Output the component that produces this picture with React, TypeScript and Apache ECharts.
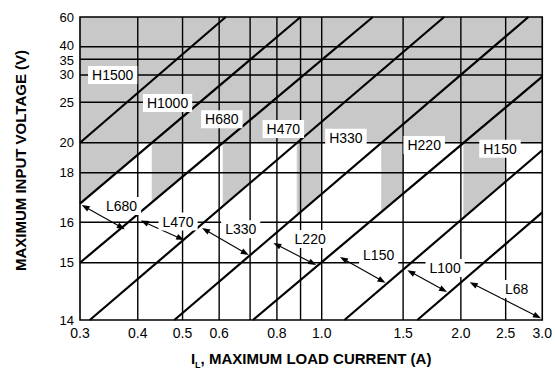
import React, { useEffect, useRef } from "react";
import * as echarts from "echarts";

// ---- axes (load current in A, input voltage in V) ----
const currentTicks = [0.3, 0.4, 0.5, 0.6, 0.8, 1.0, 1.5, 2.0, 2.5, 3.0];
const currentGrid = [0.4, 0.5, 0.6, 0.7, 0.8, 0.9, 1.0, 1.5, 2.0, 2.5];
const voltageTicks = [14, 15, 16, 18, 20, 25, 30, 35, 40, 60];
const voltageGrid = [15, 16, 18, 20, 25, 30, 35, 40];
// the chart's non-linear voltage scale: relative height of each voltage tick
const voltageScale = [0, 0.189, 0.3224, 0.4861, 0.5851, 0.7185, 0.8086, 0.8604, 0.902, 1];

// ---- region boundary lines, [current A, voltage V] at each end ----
const boundaryFrom = [
  [0.3, 20], [0.3, 16.75], [0.3, 15.0], [0.315, 14],
  [0.48, 14], [0.71, 14], [1.12, 14], [1.61, 14],
];
const boundaryTo = [
  [0.62, 60], [0.9, 60], [1.29, 60], [1.84, 60],
  [2.8, 60], [3.0, 29.7], [3.0, 19.5], [3.0, 16.4],
];

// ---- shaded H region: above this voltage, or in each band's current column ----
const hVoltage = 20;
const hCurrentLimit = [0.4, 0.5, 0.7, 1.0, 1.5, 2.5];

// ---- region labels ----
const hNames = ["H1500", "H1000", "H680", "H470", "H330", "H220", "H150"];
const hAt = [
  [0.353, 30], [0.464, 24.9], [0.608, 22.9], [0.826, 21.7],
  [1.128, 20.6], [1.666, 19.85], [2.43, 19.6],
];
const lNames = ["L680", "L470", "L330", "L220", "L150", "L100", "L68"];
const lAt = [
  [0.369, 16.66], [0.489, 16.03], [0.668, 15.83], [0.944, 15.59],
  [1.328, 15.19], [1.849, 14.91], [2.64, 14.54],
];
const lArrowFrom = [
  [0.3025, 16.7], [0.406, 16.07], [0.551, 15.86], [0.786, 15.49],
  [1.095, 15.14], [1.532, 14.87], [2.09, 14.66],
];
const lArrowTo = [
  [0.375, 15.83], [0.504, 15.56], [0.695, 15.19], [0.973, 14.96],
  [1.374, 14.65], [1.867, 14.49], [2.98, 14.03],
];

const FONT = '"Liberation Sans", Arial, Helvetica, sans-serif';
const GRAY = "#c8c8c8";

const U = (i: number) => Math.log10(i);
const T = (v: number) => {
  const n = voltageTicks.length;
  if (v <= voltageTicks[0]) return voltageScale[0];
  if (v >= voltageTicks[n - 1]) return voltageScale[n - 1];
  for (let k = 0; k < n - 1; k++) {
    const a = voltageTicks[k], b = voltageTicks[k + 1];
    if (v >= a && v <= b) {
      return voltageScale[k] + ((v - a) / (b - a)) * (voltageScale[k + 1] - voltageScale[k]);
    }
  }
  return 0;
};

type P = number[];
function clip(poly: P[], f: (p: P) => number): P[] {
  const out: P[] = [];
  for (let i = 0; i < poly.length; i++) {
    const a = poly[i], b = poly[(i + 1) % poly.length];
    const fa = f(a), fb = f(b);
    if (fa >= 0) out.push(a);
    if ((fa >= 0) !== (fb >= 0)) {
      const s = fa / (fa - fb);
      out.push([a[0] + s * (b[0] - a[0]), a[1] + s * (b[1] - a[1])]);
    }
  }
  return out;
}

export default function App() {
  const ref = useRef<HTMLDivElement>(null);
  useEffect(() => {
    const el = ref.current!;
    const chart = echarts.init(el, null, { renderer: "svg" });

    const uMin = U(currentTicks[0]);
    const uMax = U(currentTicks[currentTicks.length - 1]);
    const t20 = T(hVoltage);

    const lines = boundaryFrom.map((f, k) => [
      [U(f[0]), T(f[1])],
      [U(boundaryTo[k][0]), T(boundaryTo[k][1])],
    ]);
    const side = (k: number) => (q: P) => {
      const [p1, p2] = lines[k];
      return (p2[0] - p1[0]) * (q[1] - p1[1]) - (p2[1] - p1[1]) * (q[0] - p1[0]);
    };
    const crossAt = (k: number, t: number) => {
      const [p1, p2] = lines[k];
      return p1[0] + ((t - p1[1]) * (p2[0] - p1[0])) / (p2[1] - p1[1]);
    };
    const rect: P[] = [[uMin, 0], [uMax, 0], [uMax, 1], [uMin, 1]];
    const grayPolys: P[][] = [[[uMin, t20], [uMax, t20], [uMax, 1], [uMin, 1]]];
    hCurrentLimit.forEach((lim, k) => {
      const uStart = Math.max(uMin, crossAt(k, t20));
      let poly = clip(rect, (p) => t20 - p[1]);
      poly = clip(poly, (p) => U(lim) - p[0]);
      poly = clip(poly, (p) => p[0] - uStart);
      const lo = side(k + 1);
      poly = clip(poly, (p) => lo(p));
      if (poly.length >= 3) grayPolys.push(poly);
    });

    const lineEl = (a: number[], b: number[], w: number) => ({
      type: "line",
      shape: { x1: a[0], y1: a[1], x2: b[0], y2: b[1] },
      style: { stroke: "#000", lineWidth: w },
    });

    const labelEl = (api: any, text: string) => {
      const p = api.coord([api.value(0), api.value(1)]);
      return {
        type: "text",
        x: p[0],
        y: p[1],
        style: {
          text,
          fill: "#000",
          fontSize: 14,
          fontFamily: FONT,
          align: "center",
          verticalAlign: "middle",
          backgroundColor: "#fff",
          padding: [2, 4],
        },
      };
    };

    const option: any = {
      animation: false,
      grid: { left: 80, right: 9, top: 17, bottom: 56, show: false },
      xAxis: {
        type: "value",
        min: uMin,
        max: uMax,
        axisLine: { show: false },
        axisTick: { show: false },
        splitLine: { show: false },
        axisLabel: {
          customValues: currentTicks.map(U),
          formatter: (v: number) => Math.pow(10, v).toFixed(1),
          color: "#000",
          fontSize: 14,
          fontFamily: FONT,
          margin: 6,
        },
        name: "{i|I}{s|L}{i|, MAXIMUM LOAD CURRENT (A)}",
        nameLocation: "middle",
        nameGap: 28,
        nameTextStyle: {
          rich: {
            i: { fontSize: 15, fontFamily: FONT, fontWeight: "bold", color: "#000" },
            s: { fontSize: 9, fontFamily: FONT, fontWeight: "bold", color: "#000", verticalAlign: "bottom", lineHeight: 21 },
          },
        },
      },
      yAxis: {
        type: "value",
        min: 0,
        max: 1,
        axisLine: { show: false },
        axisTick: { show: false },
        splitLine: { show: false },
        axisLabel: {
          customValues: voltageTicks.map(T),
          formatter: (val: number) => {
            const k = voltageTicks.findIndex((v) => Math.abs(T(v) - val) < 1e-6);
            if (k < 0) return "";
            const v = voltageTicks[k];
            if (v === 40) return "{up|40}";
            if (v === 35) return "{dn|35}";
            return String(v);
          },
          color: "#000",
          fontSize: 13,
          fontFamily: FONT,
          margin: 6,
          rich: {
            up: { fontSize: 13, fontFamily: FONT, color: "#000", padding: [0, 0, 3, 0] },
            dn: { fontSize: 13, fontFamily: FONT, color: "#000", padding: [3, 0, 0, 0] },
          },
        },
        name: "MAXIMUM INPUT VOLTAGE (V)",
        nameLocation: "middle",
        nameRotate: 90,
        nameGap: 52,
        nameTextStyle: {
          fontSize: 15,
          fontFamily: FONT,
          fontWeight: "bold",
          color: "#000",
          padding: [0, 0, 0, 16],
        },
      },
      series: [
        {
          type: "custom",
          z: 1,
          silent: true,
          data: grayPolys.map((p) => p[0]),
          renderItem: (params: any, api: any) => {
            const poly = grayPolys[params.dataIndex];
            return {
              type: "polygon",
              shape: { points: poly.map((p) => api.coord(p)) },
              style: { fill: GRAY, stroke: GRAY, lineWidth: 0.6 },
            };
          },
        },
        {
          type: "custom",
          z: 2,
          silent: true,
          data: currentGrid.map((i) => [U(i), 0]),
          renderItem: (params: any, api: any) => {
            const u = api.value(0);
            return lineEl(api.coord([u, 0]), api.coord([u, 1]), 1.4);
          },
        },
        {
          type: "custom",
          z: 2,
          silent: true,
          data: voltageGrid.map((v) => [uMin, T(v)]),
          renderItem: (params: any, api: any) => {
            const t = api.value(1);
            return lineEl(api.coord([uMin, t]), api.coord([uMax, t]), 1.4);
          },
        },
        {
          type: "custom",
          z: 3,
          silent: true,
          data: [[uMin, 0]],
          renderItem: (params: any, api: any) => {
            const a = api.coord([uMin, 1]);
            const b = api.coord([uMax, 0]);
            return {
              type: "rect",
              shape: { x: a[0], y: a[1], width: b[0] - a[0], height: b[1] - a[1] },
              style: { fill: "none", stroke: "#000", lineWidth: 1.6 },
            };
          },
        },
        {
          type: "custom",
          z: 4,
          silent: true,
          data: lines.map((l) => [l[0][0], l[0][1], l[1][0], l[1][1]]),
          renderItem: (params: any, api: any) =>
            lineEl(
              api.coord([api.value(0), api.value(1)]),
              api.coord([api.value(2), api.value(3)]),
              2.2
            ),
        },
        {
          type: "custom",
          z: 5,
          silent: true,
          data: lArrowFrom.map((f, k) => [U(f[0]), T(f[1]), U(lArrowTo[k][0]), T(lArrowTo[k][1])]),
          renderItem: (params: any, api: any) => {
            const a = api.coord([api.value(0), api.value(1)]);
            const b = api.coord([api.value(2), api.value(3)]);
            const dx = b[0] - a[0], dy = b[1] - a[1];
            const len = Math.hypot(dx, dy) || 1;
            const ux = dx / len, uy = dy / len;
            const h = 8, w = 3;
            const head = (tip: number[], dir: number) => ({
              type: "polygon",
              shape: {
                points: [
                  tip,
                  [tip[0] + dir * ux * h - uy * w, tip[1] + dir * uy * h + ux * w],
                  [tip[0] + dir * ux * h + uy * w, tip[1] + dir * uy * h - ux * w],
                ],
              },
              style: { fill: "#000" },
            });
            return {
              type: "group",
              children: [
                lineEl([a[0] + ux * 4, a[1] + uy * 4], [b[0] - ux * 4, b[1] - uy * 4], 1.1),
                head(a, 1),
                head(b, -1),
              ],
            };
          },
        },
        {
          type: "custom",
          z: 6,
          silent: true,
          data: hAt.map((p) => [U(p[0]), T(p[1])]),
          renderItem: (params: any, api: any) => labelEl(api, hNames[params.dataIndex]),
        },
        {
          type: "custom",
          z: 6,
          silent: true,
          data: lAt.map((p) => [U(p[0]), T(p[1])]),
          renderItem: (params: any, api: any) => labelEl(api, lNames[params.dataIndex]),
        },
      ],
    };

    chart.setOption(option);
    return () => chart.dispose();
  }, []);

  return (
    <div
      ref={ref}
      style={{ position: "fixed", left: 0, top: 0, width: 555, height: 376, background: "#fff" }}
    />
  );
}
